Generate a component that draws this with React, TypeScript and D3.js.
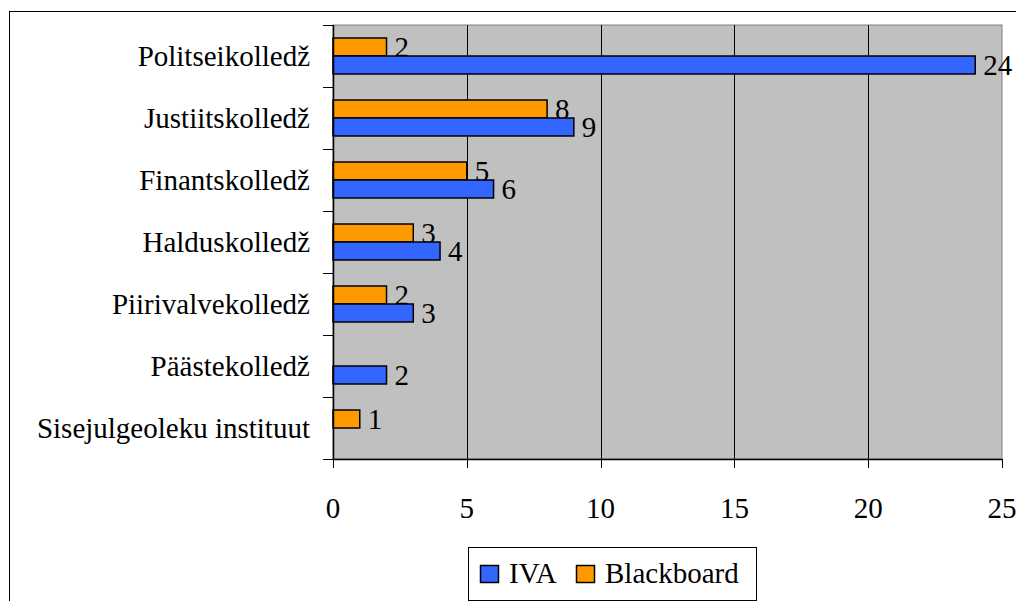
import { useEffect, useRef } from 'react';
import * as d3 from 'd3';

const categories = [
  'Politseikolledž',
  'Justiitskolledž',
  'Finantskolledž',
  'Halduskolledž',
  'Piirivalvekolledž',
  'Päästekolledž',
  'Sisejulgeoleku instituut',
];
const ivaValues: (number | null)[] = [24, 9, 6, 4, 3, 2, null];
const blackboardValues: (number | null)[] = [2, 8, 5, 3, 2, null, 1];
const xTicks = [0, 5, 10, 15, 20, 25];

const series = [
  { name: 'Blackboard', values: blackboardValues, color: '#FF9900' },
  { name: 'IVA', values: ivaValues, color: '#3366FF' },
];
const legendOrder = ['IVA', 'Blackboard'];

export default function App() {
  const ref = useRef<SVGSVGElement>(null);

  useEffect(() => {
    const width = 1016;
    const height = 601;
    const left = 333;
    const right = 1002;
    const top = 25;
    const bottom = 459;

    const svg = d3.select(ref.current);
    svg.selectAll('*').remove();

    // outer chart frame (runs off the page on the right and bottom)
    svg
      .append('rect')
      .attr('x', 9.5)
      .attr('y', 11.5)
      .attr('width', 1020)
      .attr('height', 600)
      .attr('fill', 'white')
      .attr('stroke', '#000')
      .attr('stroke-width', 1);

    const x = d3.scaleLinear().domain([0, 25]).range([left, right]);
    const y = d3.scaleBand().domain(categories).range([top, bottom]).paddingInner(0.42).paddingOuter(0.21);
    const inner = d3
      .scaleBand()
      .domain(series.map(s => s.name))
      .range([0, y.bandwidth()]);

    svg
      .append('rect')
      .attr('x', left)
      .attr('y', top)
      .attr('width', right - left)
      .attr('height', bottom - top)
      .attr('fill', '#C0C0C0')
      .attr('stroke', '#808080')
      .attr('stroke-width', 1);

    // vertical gridlines
    svg
      .append('g')
      .selectAll('line')
      .data(xTicks.slice(1, -1))
      .join('line')
      .attr('x1', d => Math.round(x(d)) + 0.5)
      .attr('x2', d => Math.round(x(d)) + 0.5)
      .attr('y1', top)
      .attr('y2', bottom)
      .attr('stroke', '#000');

    // bars
    series.forEach(s => {
      const g = svg.append('g');
      const rows = categories
        .map((c, i) => ({ c, v: s.values[i] }))
        .filter(d => d.v != null) as { c: string; v: number }[];
      g.selectAll('rect')
        .data(rows)
        .join('rect')
        .attr('x', left)
        .attr('y', d => (y(d.c) as number) + (inner(s.name) as number))
        .attr('width', d => x(d.v) - left)
        .attr('height', inner.bandwidth())
        .attr('fill', s.color)
        .attr('stroke', '#000')
        .attr('stroke-width', 1.5);
      g.selectAll('text')
        .data(rows)
        .join('text')
        .attr('class', 'lbl')
        .attr('x', d => x(d.v) + 8)
        .attr('y', d => (y(d.c) as number) + (inner(s.name) as number) + inner.bandwidth() / 2)
        .attr('dy', '0.35em')
        .text(d => d.v);
    });

    // y axis
    const yAxis = svg.append('g');
    yAxis
      .append('line')
      .attr('x1', left + 0.5)
      .attr('x2', left + 0.5)
      .attr('y1', top)
      .attr('y2', bottom)
      .attr('stroke', '#000')
      .attr('stroke-width', 1.5);
    const yTickPos = categories.map((_, i) => top + ((bottom - top) * i) / categories.length).concat([bottom]);
    yAxis
      .selectAll('line.tick')
      .data(yTickPos)
      .join('line')
      .attr('class', 'tick')
      .attr('x1', left - 10)
      .attr('x2', left)
      .attr('y1', d => Math.round(d) + 0.5)
      .attr('y2', d => Math.round(d) + 0.5)
      .attr('stroke', '#000');
    yAxis
      .selectAll('text')
      .data(categories)
      .join('text')
      .attr('class', 'lbl')
      .attr('x', 310)
      .attr('y', d => (y(d) as number) + y.bandwidth() / 2)
      .attr('dy', '0.35em')
      .attr('text-anchor', 'end')
      .text(d => d);

    // x axis
    const xAxis = svg.append('g');
    xAxis
      .append('line')
      .attr('x1', left)
      .attr('x2', right)
      .attr('y1', bottom + 0.5)
      .attr('y2', bottom + 0.5)
      .attr('stroke', '#000')
      .attr('stroke-width', 1.5);
    xAxis
      .selectAll('line.tick')
      .data(xTicks)
      .join('line')
      .attr('class', 'tick')
      .attr('x1', d => Math.round(x(d)) + 0.5)
      .attr('x2', d => Math.round(x(d)) + 0.5)
      .attr('y1', bottom)
      .attr('y2', bottom + 9)
      .attr('stroke', '#000');
    xAxis
      .selectAll('text')
      .data(xTicks)
      .join('text')
      .attr('class', 'lbl')
      .attr('x', d => x(d))
      .attr('y', 508)
      .attr('dy', '0.35em')
      .attr('text-anchor', 'middle')
      .text(d => d);

    // legend
    const lg = svg.append('g');
    lg.append('rect')
      .attr('x', 468.5)
      .attr('y', 547.5)
      .attr('width', 288)
      .attr('height', 53)
      .attr('fill', 'white')
      .attr('stroke', '#000');
    const legendX = [480, 576];
    legendOrder.forEach((name, i) => {
      const s = series.find(d => d.name === name)!;
      lg.append('rect')
        .attr('x', legendX[i] + 0.5)
        .attr('y', 565.5)
        .attr('width', 18)
        .attr('height', 17)
        .attr('fill', s.color)
        .attr('stroke', '#000')
        .attr('stroke-width', 1.5);
      lg.append('text')
        .attr('class', 'lbl')
        .attr('x', legendX[i] + 29)
        .attr('y', 583)
        .text(name);
    });

    svg
      .selectAll('text.lbl')
      .style('font-family', "'Liberation Serif', 'Times New Roman', Times, serif")
      .style('font-size', '29px')
      .style('fill', '#000');

    svg.attr('width', width).attr('height', height);
  }, []);

  return (
    <svg
      ref={ref}
      width={1016}
      height={601}
      style={{ position: 'absolute', left: 0, top: 0 }}
      role="img"
      aria-label="IVA ja Blackboard kolledžite kaupa"
    />
  );
}
